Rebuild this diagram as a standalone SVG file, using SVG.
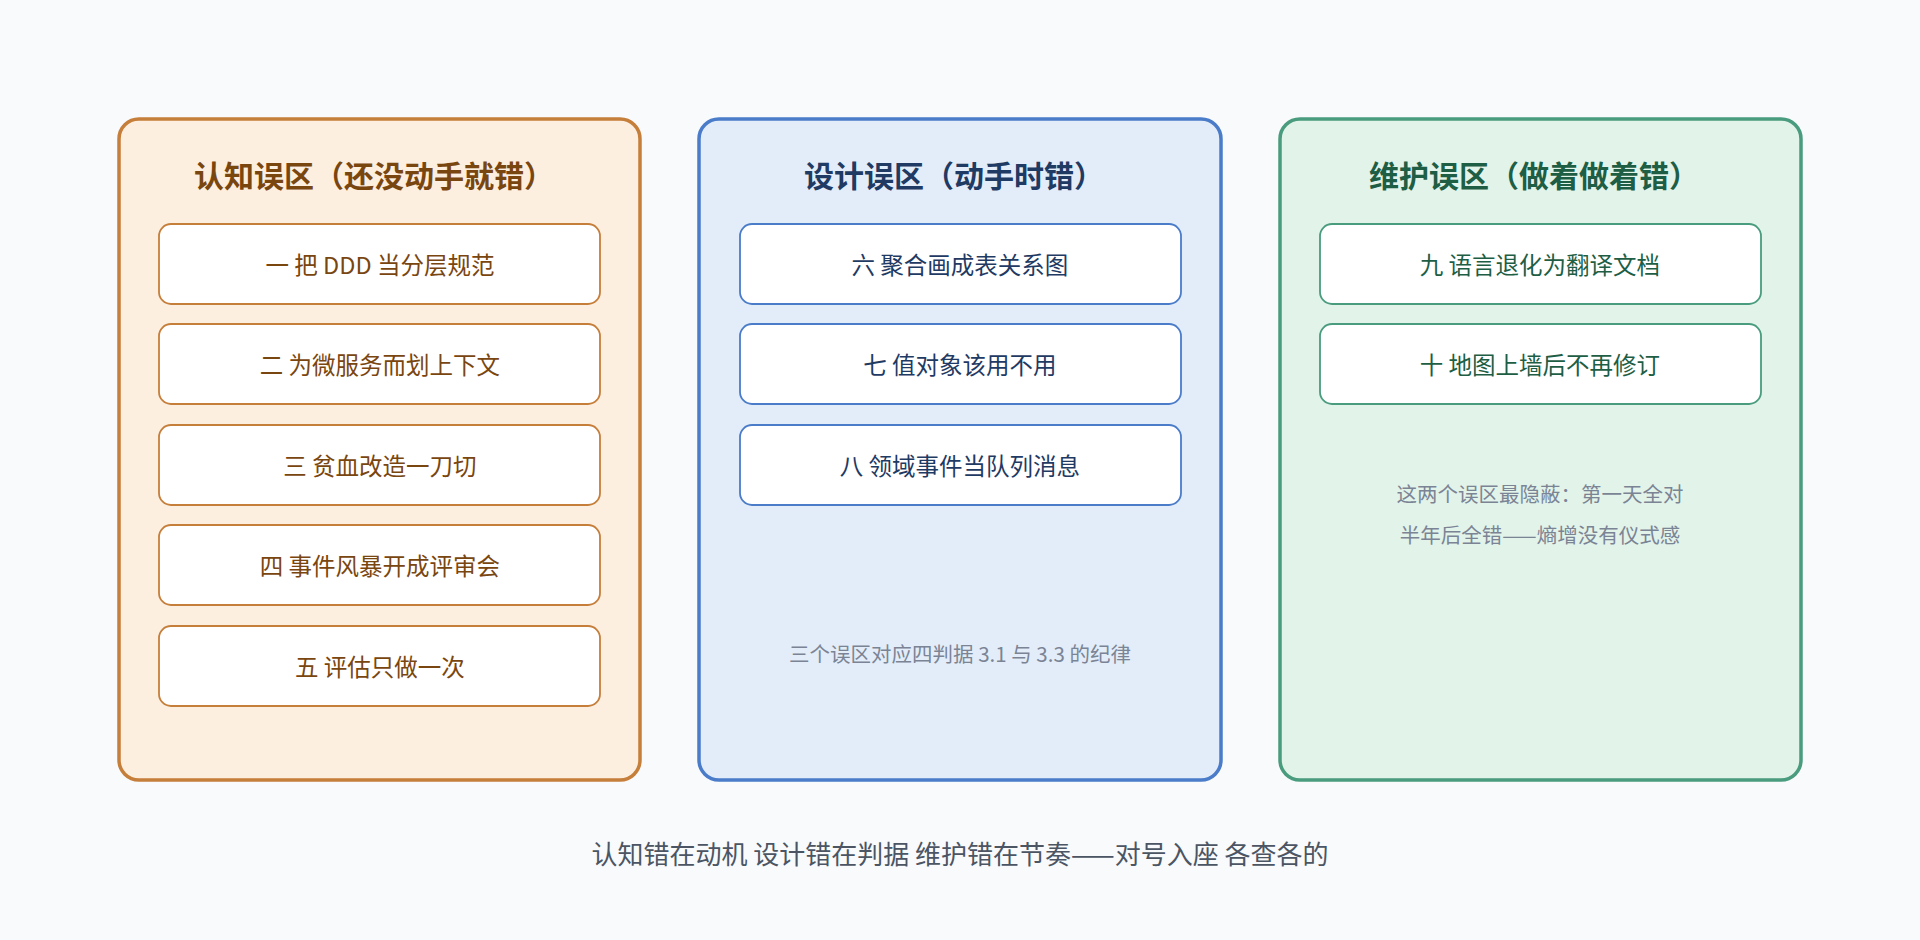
<svg xmlns="http://www.w3.org/2000/svg" width="1920" height="940" viewBox="0 0 1920 940">
<style>
text{font-family:"Noto Sans CJK SC","Noto Sans",sans-serif;text-anchor:middle;dominant-baseline:central}
.panel{stroke-width:3.5}
.item{fill:#fff;stroke-width:1.8}
.t{font-size:30px;font-weight:bold}
.i{font-size:23.5px}
g text.n{font-size:20.5px;fill:#7b8494}
.o .panel{fill:#fcefdf;stroke:#c67e3b}.o .item{stroke:#c67e3b}.o text{fill:#7a4610}
.b .panel{fill:#e3edf9;stroke:#4a7cc9}.b .item{stroke:#4a7cc9}.b text{fill:#1f3a63}
.g .panel{fill:#e2f3ea;stroke:#4a9c7e}.g .item{stroke:#4a9c7e}.g text{fill:#1d5e45}
</style>
<rect width="1920" height="940" fill="#f8fafc"/>
<g id="cognitive" class="o">
<rect class="panel" x="119" y="119" width="521" height="661" rx="20"/>
<text class="t" x="374" y="174">认知误区（还没动手就错）</text>
<rect class="item" x="159" y="224" width="441" height="80" rx="12"/><text class="i" x="380" y="264">一 把 DDD 当分层规范</text>
<rect class="item" x="159" y="324" width="441" height="80" rx="12"/><text class="i" x="380" y="364">二 为微服务而划上下文</text>
<rect class="item" x="159" y="425" width="441" height="80" rx="12"/><text class="i" x="380" y="465">三 贫血改造一刀切</text>
<rect class="item" x="159" y="525" width="441" height="80" rx="12"/><text class="i" x="380" y="565">四 事件风暴开成评审会</text>
<rect class="item" x="159" y="626" width="441" height="80" rx="12"/><text class="i" x="380" y="666">五 评估只做一次</text>
</g>
<g id="design" class="b">
<rect class="panel" x="699" y="119" width="522" height="661" rx="20"/>
<text class="t" x="954" y="174">设计误区（动手时错）</text>
<rect class="item" x="740" y="224" width="441" height="80" rx="12"/><text class="i" x="960" y="264">六 聚合画成表关系图</text>
<rect class="item" x="740" y="324" width="441" height="80" rx="12"/><text class="i" x="960" y="364">七 值对象该用不用</text>
<rect class="item" x="740" y="425" width="441" height="80" rx="12"/><text class="i" x="960" y="465">八 领域事件当队列消息</text>
<text class="n" x="960" y="653">三个误区对应四判据 3.1 与 3.3 的纪律</text>
</g>
<g id="maintain" class="g">
<rect class="panel" x="1280" y="119" width="521" height="661" rx="20"/>
<text class="t" x="1534" y="174">维护误区（做着做着错）</text>
<rect class="item" x="1320" y="224" width="441" height="80" rx="12"/><text class="i" x="1540" y="264">九 语言退化为翻译文档</text>
<rect class="item" x="1320" y="324" width="441" height="80" rx="12"/><text class="i" x="1540" y="364">十 地图上墙后不再修订</text>
<text class="n" x="1540" y="493">这两个误区最隐蔽：第一天全对</text>
<text class="n" x="1540" y="534">半年后全错——熵增没有仪式感</text>
</g>
<g id="connectors"/>
<text x="960" y="852" style="font-size:26px;fill:#4b5563">认知错在动机 设计错在判据 维护错在节奏——对号入座 各查各的</text>
</svg>
